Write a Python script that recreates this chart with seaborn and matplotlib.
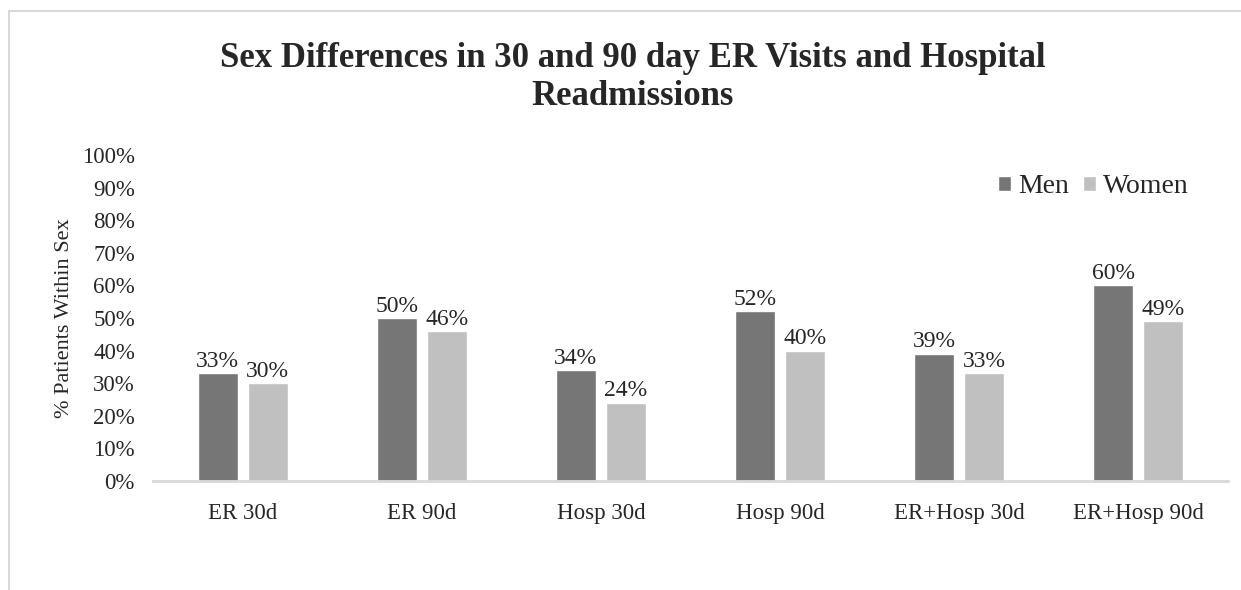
import matplotlib
matplotlib.use("Agg")
import matplotlib.pyplot as plt
from matplotlib.lines import Line2D
import pandas as pd
import seaborn as sns

categories = ["ER 30d", "ER 90d", "Hosp 30d", "Hosp 90d", "ER+Hosp 30d", "ER+Hosp 90d"]
men = [33, 50, 34, 52, 39, 60]
women = [30, 46, 24, 40, 33, 49]
yticks = [0, 10, 20, 30, 40, 50, 60, 70, 80, 90, 100]

df = pd.DataFrame({
    "category": categories * 2,
    "value": men + women,
    "sex": ["Men"] * len(men) + ["Women"] * len(women),
})

sns.set_style("white")
plt.rcParams["font.family"] = ["Liberation Serif", "DejaVu Serif"]

fig = plt.figure(figsize=(12.41, 5.90), dpi=100)
ax = fig.add_axes([0.1233, 0.1847, 0.8662, 0.5526])

sns.barplot(data=df, x="category", y="value", hue="sex", order=categories,
            palette={"Men": "#767676", "Women": "#c0c0c0"},
            width=0.559, gap=0.2, ax=ax)

for cont in ax.containers:
    ax.bar_label(cont, labels=[f"{v:.0f}%" for v in cont.datavalues],
                 fontsize=17, padding=1, color="#262626")

ax.set_ylim(0, 100)
ax.set_yticks(yticks)
ax.set_yticklabels([f"{t}%" for t in yticks])
ax.set_xlim(-0.5, len(categories) - 0.5)
ax.tick_params(axis="both", length=0, labelsize=16.5, colors="#262626")
ax.tick_params(axis="y", pad=13)
ax.tick_params(axis="x", pad=16)
ax.set_xlabel("")
ax.set_ylabel("% Patients Within Sex", fontsize=16, color="#262626", labelpad=6)

for s in ["top", "right", "left"]:
    ax.spines[s].set_visible(False)
ax.spines["bottom"].set_color("#d9d9d9")
ax.spines["bottom"].set_linewidth(2)

leg = ax.legend(loc="upper right", bbox_to_anchor=(0.974, 0.975), frameon=False,
                fontsize=20, handlelength=0.48, handleheight=0.48,
                handletextpad=0.25, columnspacing=0.5, ncol=2, borderaxespad=0)

fig.text(0.51, 0.929, "Sex Differences in 30 and 90 day ER Visits and Hospital\nReadmissions",
         ha="center", va="top", fontsize=25, fontweight="bold", linespacing=1.22)

# chart frame (only left and top edge visible in the crop)
fig.add_artist(Line2D([9 / 1241, 9 / 1241], [0, 1 - 11 / 590], transform=fig.transFigure,
                      color="#d9d9d9", lw=1.5))
fig.add_artist(Line2D([9 / 1241, 1], [1 - 11 / 590, 1 - 11 / 590], transform=fig.transFigure,
                      color="#d9d9d9", lw=1.5))

fig.savefig("out.png", dpi=100)
